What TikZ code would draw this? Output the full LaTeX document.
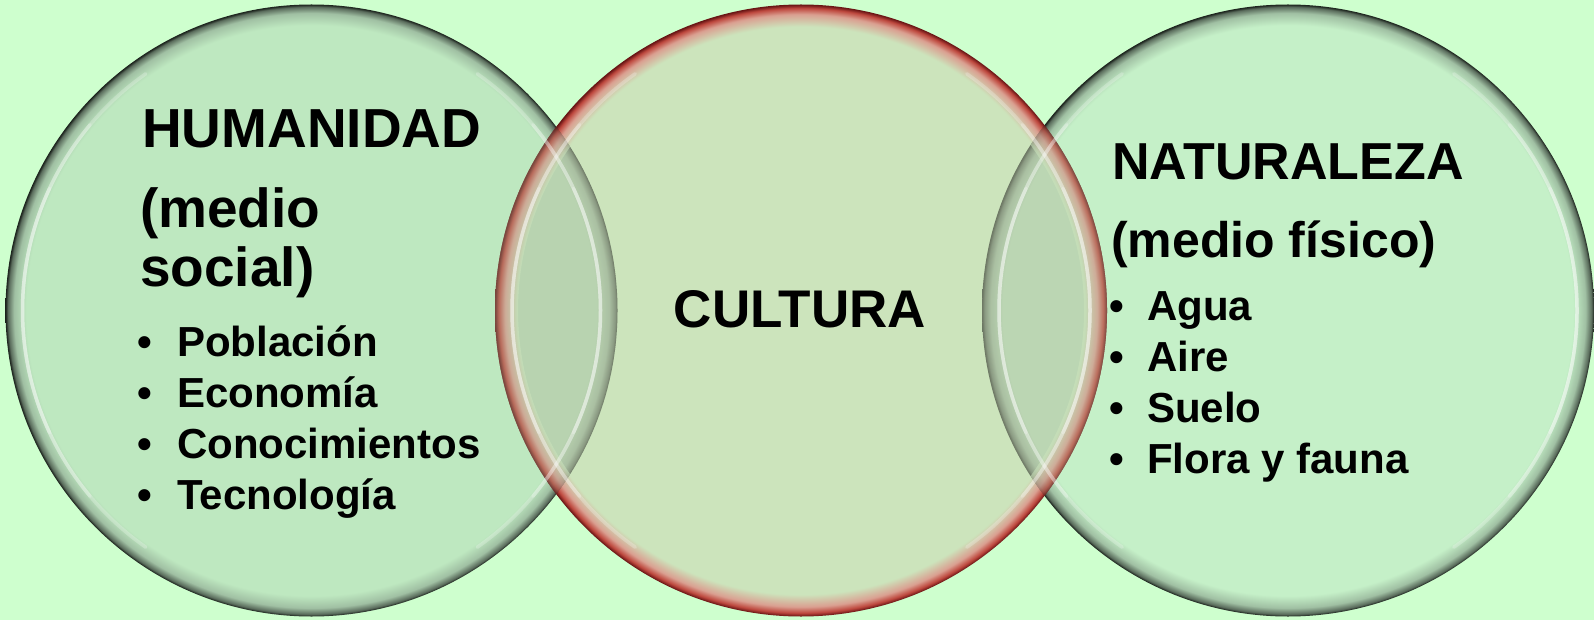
\documentclass[tikz,border=0pt]{standalone}
\usepackage{fontspec}
\setmainfont{Liberation Sans}
\definecolor{bg}{RGB}{206,255,206}
\definecolor{gfillL}{RGB}{190,232,192}
\definecolor{gfillR}{RGB}{197,240,200}
\definecolor{rfill}{RGB}{204,228,188}
\definecolor{gdark}{RGB}{25,32,26}
\definecolor{gmid}{RGB}{90,108,92}
\definecolor{glite}{RGB}{160,192,163}
\definecolor{rdark}{RGB}{100,18,18}
\definecolor{rmid}{RGB}{190,72,62}
\definecolor{rlite}{RGB}{218,160,145}
\definecolor{lensgray}{RGB}{125,112,105}
\pgfdeclareradialshading{ringL}{\pgfpoint{0bp}{0bp}}{color(0bp)=(gfillL); color(23.3bp)=(gfillL); color(24.3bp)=(glite); color(24.8bp)=(gmid); color(25bp)=(gdark); color(50bp)=(gdark)}
\pgfdeclareradialshading{ringR}{\pgfpoint{0bp}{0bp}}{color(0bp)=(gfillR); color(23.3bp)=(gfillR); color(24.3bp)=(glite); color(24.8bp)=(gmid); color(25bp)=(gdark); color(50bp)=(gdark)}
\pgfdeclareradialshading{ringM}{\pgfpoint{0bp}{0bp}}{color(0bp)=(rfill); color(23.2bp)=(rfill); color(24.2bp)=(rlite); color(24.7bp)=(rmid); color(25bp)=(rdark); color(50bp)=(rdark)}
\tikzset{
  hd/.style={font=\fontsize{55}{60}\selectfont\bfseries, inner sep=0pt, anchor=base west},
  hdr/.style={font=\fontsize{52}{58}\selectfont\bfseries, inner sep=0pt, anchor=base west},
  sub/.style={font=\fontsize{50}{56}\selectfont\bfseries, inner sep=0pt, anchor=base west},
  item/.style={font=\fontsize{42}{48}\selectfont\bfseries, inner sep=0pt, anchor=base west},
  mid/.style={font=\fontsize{53}{58}\selectfont\bfseries, inner sep=0pt, anchor=base},
  hl/.style={white, line width=3.5pt, opacity=0.24, line cap=round}
}
\newcommand{\bulL}{\makebox[40pt][l]{\fontsize{42}{48}\selectfont\bfseries\textbullet}}
\newcommand{\bulR}{\makebox[38pt][l]{\fontsize{42}{48}\selectfont\bfseries\textbullet}}
\begin{document}
\begin{tikzpicture}[x=1pt,y=-1pt]
\useasboundingbox (0,0) rectangle (1594,620);
\fill[bg] (0,0) rectangle (1594,620);
\coordinate (cL) at (311.5,310.5);
\coordinate (cM) at (801,310.5);
\coordinate (cR) at (1288,310.5);
% circles
\path[shading=ringL] (cL) circle[radius=306pt];
\path[shading=ringR] (cR) circle[radius=306pt];
\path[shading=ringM] (cM) circle[radius=306pt];
% lenses
\foreach \o/\s in {cL/ringL, cR/ringR}{
  \begin{scope}
    \clip (cM) circle[radius=306pt];
    \clip (\o) circle[radius=306pt];
    \path[shading=\s, opacity=0.55] (\o) circle[radius=306pt];
    \fill[lensgray, opacity=0.16] (\o) circle[radius=306pt];
    \begin{scope}[even odd rule]
      \clip (cM) circle[radius=306pt] (cM) circle[radius=283pt];
      \path[shading=ringM, opacity=0.55] (cM) circle[radius=306pt];
    \end{scope}
  \end{scope}
}
% highlights
\foreach \c in {cL,cM,cR}{
  \foreach \a in {25,40,55}{
    \draw[hl] ([shift={(180-\a:289pt)}]\c) arc[start angle=180-\a, end angle=180+\a, radius=289pt];
    \draw[hl] ([shift={(-\a:289pt)}]\c) arc[start angle=-\a, end angle=\a, radius=289pt];
  }
}
% texts left
\node[hd] (hum) at (142,148) {HUMANIDAD};
\node[hd] (ms1) at (140,228) {(medio};
\node[hd] (ms2) at (140,286) {social)};
\node[item] (l1) at (137,356) {\bulL Población};
\node[item] (l2) at (137,407.5) {\bulL Economía};
\node[item] (l3) at (137,458) {\bulL Conocimientos};
\node[item] (l4) at (137,509) {\bulL Tecnología};
% middle
\node[mid] (cul) at (800,327) {CULTURA};
% right
\node[hdr] (nat) at (1112,180) {NATURALEZA};
\node[sub] (mf) at (1111,258) {(medio físico)};
\node[item] (r1) at (1109,320) {\bulR Agua};
\node[item] (r2) at (1109,371) {\bulR Aire};
\node[item] (r3) at (1109,422) {\bulR Suelo};
\node[item] (r4) at (1109,473) {\bulR Flora y fauna};
\end{tikzpicture}
\end{document}
